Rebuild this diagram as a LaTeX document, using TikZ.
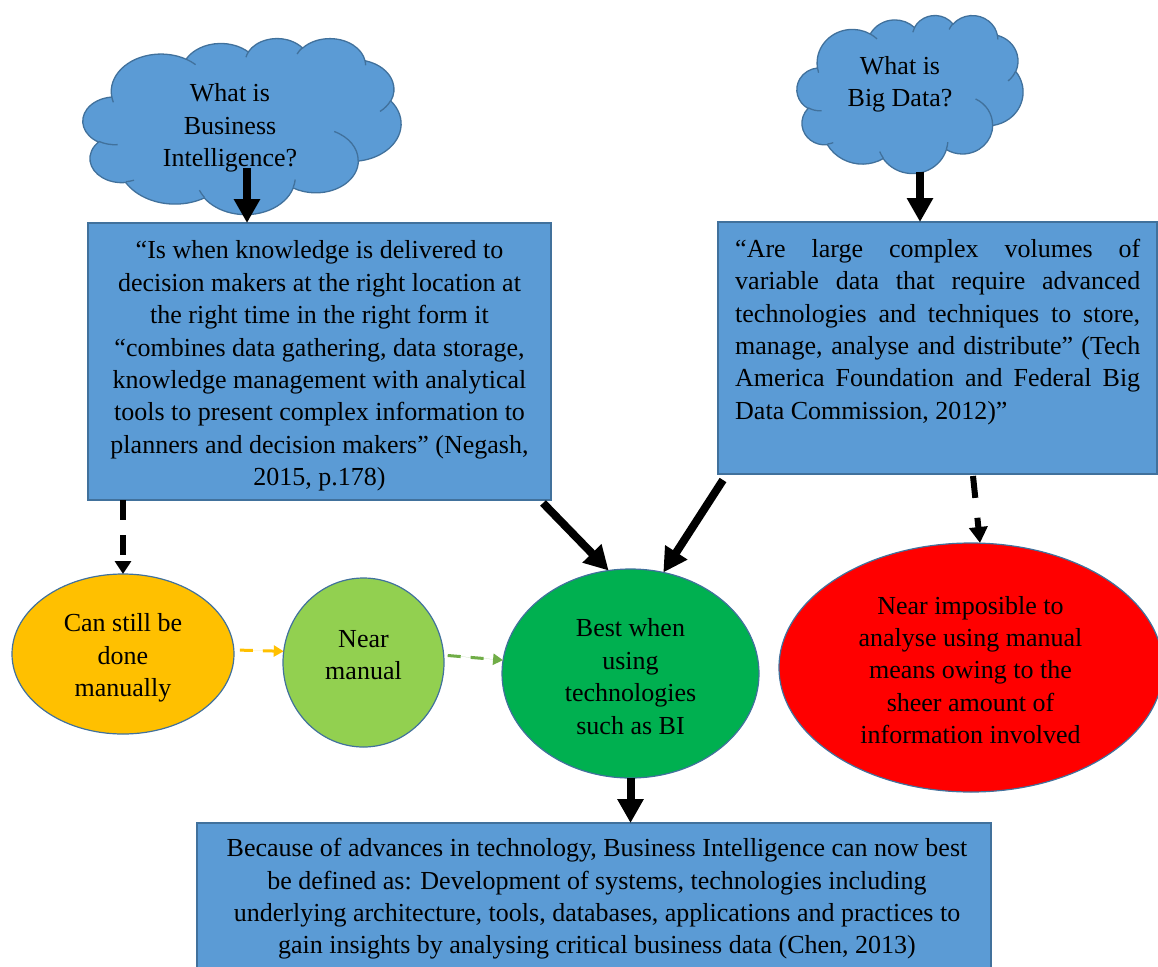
\documentclass[tikz,border=0pt]{standalone}
\usepackage{fontspec}
\setmainfont{Liberation Serif}
\usetikzlibrary{arrows.meta,shapes.geometric}

\definecolor{boxblue}{HTML}{5B9BD5}
\definecolor{edgeblue}{HTML}{41719C}
\definecolor{ballorange}{HTML}{FFC000}
\definecolor{balllime}{HTML}{92D050}
\definecolor{ballgreen}{HTML}{00B050}
\definecolor{ballred}{HTML}{FF0000}
\definecolor{dashlime}{HTML}{70AD47}

\tikzset{
  bodytext/.style={font=\fontsize{26}{32.4}\selectfont, align=center, inner sep=0pt},
  bluebox/.style={rectangle, fill=boxblue, draw=edgeblue, line width=1.3pt,
    inner sep=0pt, outer sep=0pt},
  cloudframe/.style={rectangle, inner sep=0pt, outer sep=0pt},
  cloudline/.style={draw=edgeblue, line width=1.3pt},
  ball/.style={ellipse, draw=edgeblue, line width=1.2pt, inner sep=0pt, outer sep=0pt},
  bigarrow/.style={draw=black, line width=8pt, -{Triangle[width=25pt,length=24pt]}},
  dasharrow/.style={draw=black, line width=6pt, dash pattern=on 20pt off 15pt,
    -{Triangle[width=16pt,length=13pt]}},
  thindash/.style={line width=3pt, dash pattern=on 13pt off 10pt,
    -{Triangle[width=11pt,length=10pt]}},
  % elliptical arc given by radii, start direction and sweep (degrees)
  ocarc/.style n args={4}{insert path={
    arc[start angle={atan2(#1*sin(#3),#2*cos(#3))},
        delta angle={mod(atan2(#1*sin(#3+#4),#2*cos(#3+#4))-atan2(#1*sin(#3),#2*cos(#3))+720,360)},
        x radius=#1, y radius=#2]}}
}

% cloud outline in a 432 x 432 frame placed on the node #1
\newcommand\puffycloud[3]{%
  \begin{scope}[shift={(#1.north west)}, x=#2pt, y=-#3pt]
    \path[fill=boxblue, cloudline] (39.00,143.70)
      [ocarc={67.53}{91.90}{-190.4875}{123.7805}]
      [ocarc={53.33}{72.67}{-144.1024}{89.9452}]
      [ocarc={43.65}{59.45}{-145.8079}{99.7230}]
      [ocarc={48.57}{65.95}{-130.9861}{117.2417}]
      [ocarc={53.33}{72.73}{-78.7089}{109.0269}]
      [ocarc={67.75}{92.20}{-46.2673}{130.2690}]
      [ocarc={57.85}{78.67}{0.6250}{114.0333}]
      [ocarc={67.52}{92.15}{22.4516}{115.1726}]
      [ocarc={77.20}{105.43}{66.2426}{75.7110}]
      [ocarc={43.60}{59.18}{-274.9421}{146.7356}]
      [ocarc={43.45}{59.45}{-246.8285}{152.5189}] -- cycle;
    \path[cloudline]
      (46.93,261.77) [ocarc={43.45}{59.45}{86.7420}{26.4295}]
      (69.28,348.99) [ocarc={43.60}{59.18}{73.6105}{11.4475}]
      (164.78,390.90) [ocarc={67.52}{92.15}{137.6242}{14.0811}]
      (288.27,347.51) [ocarc={67.52}{92.15}{6.4533}{15.9984}]
      (341.29,229.54) [ocarc={57.85}{78.67}{-70.2924}{70.9174}]
      (417.98,153.54) [ocarc={53.33}{72.73}{30.3180}{27.7515}]
      (383.24,54.26) [ocarc={48.57}{65.95}{-13.7443}{14.8589}]
      (290.78,39.52) [ocarc={48.57}{65.95}{-149.1815}{18.1954}]
      (221.41,47.20) [ocarc={43.65}{59.45}{-163.4943}{17.6864}]
      (140.00,51.92) [ocarc={67.53}{91.90}{-66.7070}{12.3194}]
      (41.27,157.89) [ocarc={67.53}{91.90}{157.6544}{11.8582}];
  \end{scope}}

\begin{document}
\begin{tikzpicture}[x=1pt,y=-1pt]
\useasboundingbox (0,0) rectangle (1158,966);
\clip (0,0) rectangle (1158,966);

% question clouds
\node[cloudframe, minimum width=318, minimum height=176] (cloudA) at (242,126) {};
\puffycloud{cloudA}{0.73611}{0.40741}
\node[bodytext] (cloudAtext) at (230,128) {What is\\Business\\Intelligence?};
\node[cloudframe, minimum width=226, minimum height=158] (cloudB) at (910,94) {};
\puffycloud{cloudB}{0.52315}{0.36574}
\node[bodytext] (cloudBtext) at (900,84) {What is\\Big Data?};

% definition boxes
\node[bluebox, minimum width=463, minimum height=277] (box1) at (319.5,361.5) {};
\node[bodytext] (box1text) at (319.5,366)
  {“Is when knowledge is delivered to\\
   decision makers at the right location at\\
   the right time in the right form it\\
   “combines data gathering, data storage,\\
   knowledge management with analytical\\
   tools to present complex information to\\
   planners and decision makers” (Negash,\\
   2015, p.178)};
\node[bluebox, minimum width=439, minimum height=252] (box2) at (937.5,348) {};
\node[bodytext, align=left, anchor=west] (box2text) at (735,332)
  {\makebox[405pt][s]{“Are large complex volumes of}\\
   \makebox[405pt][s]{variable data that require advanced}\\
   \makebox[405pt][s]{technologies and techniques to store,}\\
   \makebox[405pt][s]{manage, analyse and distribute” (Tech}\\
   \makebox[405pt][s]{America Foundation and Federal Big}\\
   Data Commission, 2012)”};

% outcome ellipses
\node[ball, fill=ballorange, minimum width=222, minimum height=160] (orange) at (123,654) {};
\node[bodytext] (orangetext) at (123,658) {Can still be\\done\\manually};
\node[ball, fill=balllime, minimum width=161, minimum height=169] (near) at (363.5,662.5) {};
\node[bodytext] (neartext) at (363.5,655) {Near\\manual};
\node[ball, fill=ballgreen, minimum width=257, minimum height=209] (best) at (630.5,673.5) {};
\node[bodytext] (besttext) at (630.5,676.5) {Best when\\using\\technologies\\such as BI};
\node[ball, fill=ballred, minimum width=384, minimum height=249] (red) at (971,667.5) {};
\node[bodytext] (redtext) at (970.5,670)
  {Near imposible to\\analyse using manual\\means owing to the\\sheer amount of\\information involved};

% conclusion box
\node[bluebox, minimum width=794, minimum height=154] (bottom) at (594,900) {};
\node[bodytext] (bottomtext) at (597,899)
  {Because of advances in technology, Business Intelligence can now best\\
   be defined as: Development of systems, technologies including\\
   underlying architecture, tools, databases, applications and practices to\\
   gain insights by analysing critical business data (Chen, 2013)};

% connectors
\coordinate (a1start) at ([shift={(5,42)}]cloudA.center);
\coordinate (a2start) at ([shift={(10,78)}]cloudB.center);
\draw[bigarrow] (a1start) -- (a1start |- box1.north);
\draw[bigarrow] (a2start) -- (a2start |- box2.north);
\draw[dasharrow] (orange.north |- box1.south) -- (orange.north);
\draw[bigarrow] ([shift={(-8,3)}]box1.south east) -- (best.102);
\draw[bigarrow] ([shift={(5,6)}]box2.south west) -- (best.72);
\draw[dasharrow, line width=6pt, -{Triangle[width=18pt,length=16pt]},
  dash pattern=on 22pt off 20pt] ([shift={(35.5,2)}]box2.south) -- ([xshift=9pt]red.north);
\draw[thindash, draw=ballorange, fill=ballorange] ([xshift=6pt]orange.2) -- (near.172);
\draw[thindash, draw=dashlime, fill=dashlime] ([xshift=4pt]near.5) -- (best.174);
\draw[bigarrow] (best.south) -- (best.south |- bottom.north);
\end{tikzpicture}
\end{document}
